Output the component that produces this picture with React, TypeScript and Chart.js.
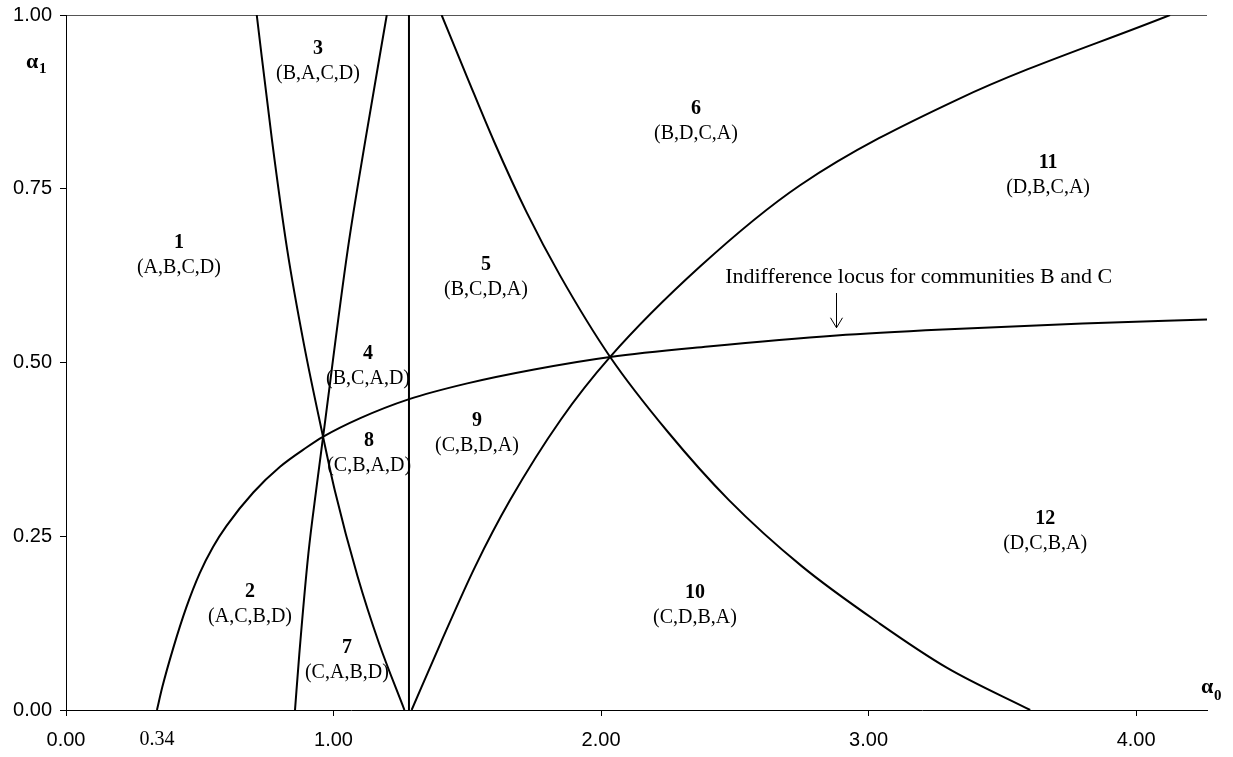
import React, { useEffect, useRef } from "react";
import { Chart, registerables } from "chart.js";

Chart.register(...registerables);

// Indifference locus for communities B and C
const locusBCx = [0.34, 0.36, 0.4, 0.45, 0.5, 0.55, 0.6, 0.7, 0.8, 0.9, 0.96, 1.1, 1.28, 1.5, 1.75, 2.034, 2.4, 2.88, 3.3, 3.8, 4.265];
const locusBCy = [0.0, 0.033, 0.088, 0.148, 0.197, 0.235, 0.265, 0.313, 0.35, 0.378, 0.393, 0.42, 0.447, 0.47, 0.49, 0.508, 0.523, 0.539, 0.548, 0.556, 0.562];

// Steep descending boundary (through 0.96)
const steepDownX = [0.713, 0.77, 0.827, 0.89, 0.961, 1.006, 1.09, 1.17, 1.265];
const steepDownY = [1.0, 0.82, 0.662, 0.525, 0.393, 0.314, 0.192, 0.096, 0.0];

// Steep ascending boundary (through 0.96)
const steepUpX = [0.856, 0.872, 0.906, 0.937, 0.961, 1.053, 1.12, 1.199];
const steepUpY = [0.0, 0.08, 0.225, 0.322, 0.393, 0.662, 0.822, 1.0];

// Vertical boundary
const verticalX = [1.282, 1.282];
const verticalY = [0.0, 1.0];

// Ascending boundary (through 2.03)
const riseX = [1.292, 1.4, 1.529, 1.66, 1.85, 2.034, 2.37, 2.744, 3.33, 4.127];
const riseY = [0.0, 0.096, 0.206, 0.302, 0.418, 0.508, 0.638, 0.755, 0.878, 1.0];

// Descending boundary (through 2.03)
const fallX = [1.404, 1.5, 1.6, 1.722, 1.847, 2.034, 2.25, 2.478, 2.75, 3.043, 3.292, 3.604];
const fallY = [1.0, 0.91, 0.818, 0.716, 0.625, 0.508, 0.4, 0.302, 0.207, 0.124, 0.061, 0.0];

// Region labels
const regionNumbers = ["1", "2", "3", "4", "5", "6", "7", "8", "9", "10", "11", "12"];
const regionOrders = [
  "(A,B,C,D)", "(A,C,B,D)", "(B,A,C,D)", "(B,C,A,D)", "(B,C,D,A)", "(B,D,C,A)",
  "(C,A,B,D)", "(C,B,A,D)", "(C,B,D,A)", "(C,D,B,A)", "(D,B,C,A)", "(D,C,B,A)",
];
const regionX = [0.422, 0.688, 0.942, 1.129, 1.57, 2.355, 1.05, 1.133, 1.536, 2.351, 3.671, 3.66];
const regionY = [0.672, 0.17, 0.951, 0.513, 0.64, 0.865, 0.09, 0.388, 0.416, 0.168, 0.787, 0.275];

const locusText = "Indifference locus for communities B and C";
const locusTextX = 2.464;
const locusTextY = 0.622;
const arrowX = 2.877;
const arrowTopY = 0.6;
const arrowBottomY = 0.55;

const extraTickValue = 0.34;
const extraTickLabel = "0.34";

const xMin = 0;
const xMax = 4.265;
const xStep = 1;
const yMin = 0;
const yMax = 1;
const yStep = 0.25;

const SERIF = '"Liberation Serif", "Times New Roman", serif';
const SANS = '"Liberation Sans", Arial, sans-serif';

function pts(xs: number[], ys: number[]) {
  return xs.map((x, i) => ({ x, y: ys[i] }));
}

export default function App() {
  const ref = useRef<HTMLCanvasElement>(null);

  useEffect(() => {
    document.body.style.margin = "0";
    const canvas = ref.current;
    if (!canvas) return;

    const curve = (data: { x: number; y: number }[], smooth = true) => ({
      data,
      showLine: true,
      borderColor: "#000",
      borderWidth: 2,
      pointRadius: 0,
      pointHoverRadius: 0,
      fill: false,
      tension: 0,
      cubicInterpolationMode: smooth ? "monotone" : "default",
    });

    const annotations = {
      id: "annotations",
      afterDatasetsDraw(chart: any) {
        const { ctx, scales, chartArea } = chart;
        const sx = scales.x;
        const sy = scales.y;
        ctx.save();
        ctx.fillStyle = "#000";
        ctx.strokeStyle = "#000";
        ctx.textAlign = "center";
        ctx.textBaseline = "middle";
        regionNumbers.forEach((n, i) => {
          const px = sx.getPixelForValue(regionX[i]);
          const py = sy.getPixelForValue(regionY[i]);
          ctx.font = `bold 20px ${SERIF}`;
          ctx.fillText(n, px, py);
          ctx.font = `20px ${SERIF}`;
          ctx.fillText(regionOrders[i], px, py + 25);
        });

        // Locus label and arrow
        ctx.textAlign = "left";
        ctx.font = `22px ${SERIF}`;
        ctx.fillText(locusText, sx.getPixelForValue(locusTextX), sy.getPixelForValue(locusTextY));
        const ax = Math.round(sx.getPixelForValue(arrowX)) + 0.5;
        const at = sy.getPixelForValue(arrowTopY);
        const ab = sy.getPixelForValue(arrowBottomY);
        ctx.lineWidth = 1;
        ctx.beginPath();
        ctx.moveTo(ax, at);
        ctx.lineTo(ax, ab);
        ctx.moveTo(ax - 6, ab - 10);
        ctx.lineTo(ax, ab);
        ctx.lineTo(ax + 6, ab - 10);
        ctx.stroke();

        // Extra tick label 0.34 (serif)
        ctx.textAlign = "center";
        ctx.font = `20px ${SERIF}`;
        ctx.fillText(extraTickLabel, sx.getPixelForValue(extraTickValue), chartArea.bottom + 30);

        // Axis titles alpha_1 and alpha_0
        ctx.textAlign = "left";
        ctx.textBaseline = "alphabetic";
        ctx.font = `bold 22px ${SERIF}`;
        ctx.fillText("α", 26, 68);
        ctx.font = `bold 15px ${SERIF}`;
        ctx.fillText("1", 39, 73);
        ctx.font = `bold 22px ${SERIF}`;
        ctx.fillText("α", chartArea.right - 6, chartArea.bottom - 17);
        ctx.font = `bold 15px ${SERIF}`;
        ctx.fillText("0", chartArea.right + 7, chartArea.bottom - 10);
        ctx.restore();
      },
    };

    const chart = new Chart(canvas, {
      type: "scatter",
      data: {
        datasets: [
          curve(pts(locusBCx, locusBCy)),
          curve(pts(steepDownX, steepDownY)),
          curve(pts(steepUpX, steepUpY)),
          curve(pts(verticalX, verticalY), false),
          curve(pts(riseX, riseY)),
          curve(pts(fallX, fallY)),
        ] as any,
      },
      options: {
        animation: false,
        responsive: false,
        devicePixelRatio: 1,
        events: [],
        layout: { padding: { top: 15, right: 26, left: 0, bottom: 0 } },
        plugins: {
          legend: { display: false },
          tooltip: { enabled: false },
        },
        scales: {
          x: {
            type: "linear",
            position: "bottom",
            min: xMin,
            max: xMax,
            afterFit: (s: any) => {
              s.height = 47;
              s.paddingLeft = 0;
              s.paddingRight = 0;
            },
            border: { display: true, color: "#000", width: 1 },
            grid: { drawOnChartArea: false, drawTicks: true, tickLength: 6, tickColor: "#000", color: "#000" },
            ticks: {
              stepSize: xStep,
              includeBounds: false,
              autoSkip: false,
              maxRotation: 0,
              padding: 12,
              color: "#000",
              font: { family: SANS, size: 20 },
              callback: (v: any) => Number(v).toFixed(2),
            },
          },
          y: {
            type: "linear",
            min: yMin,
            max: yMax,
            afterFit: (s: any) => {
              s.width = 66;
              s.paddingTop = 0;
              s.paddingBottom = 0;
            },
            border: { display: true, color: "#000", width: 1 },
            grid: {
              drawTicks: true,
              tickLength: 6,
              tickColor: "#000",
              color: (c: any) => (c.tick && c.tick.value === yMax ? "#555" : "rgba(0,0,0,0)"),
            },
            ticks: {
              stepSize: yStep,
              includeBounds: false,
              padding: 8,
              color: "#000",
              font: { family: SANS, size: 20 },
              callback: (v: any) => Number(v).toFixed(2),
            },
          },
        },
      } as any,
      plugins: [annotations],
    });

    return () => chart.destroy();
  }, []);

  return (
    <div style={{ position: "fixed", left: 0, top: 0, width: 1233, height: 757, background: "#fff" }}>
      <canvas ref={ref} width={1233} height={757} style={{ display: "block" }} />
    </div>
  );
}
